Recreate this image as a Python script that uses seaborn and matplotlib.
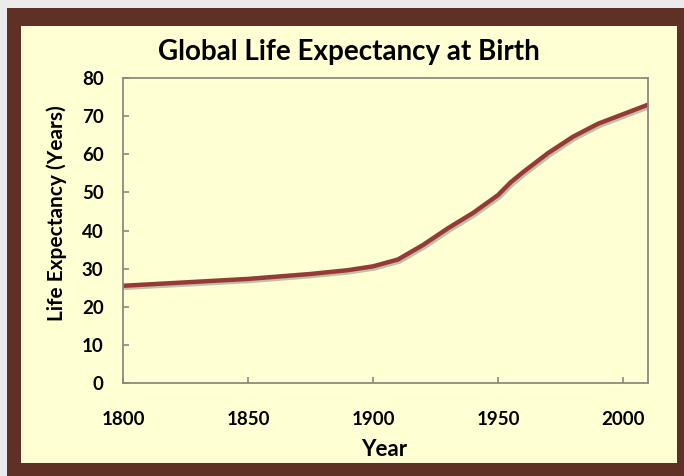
import matplotlib
matplotlib.use("Agg")
import matplotlib.pyplot as plt
import matplotlib.patheffects as pe
from matplotlib.patches import Rectangle
import pandas as pd
import seaborn as sns

# values
years = [1800, 1825, 1850, 1875, 1890, 1900, 1910, 1920, 1930, 1940, 1950,
         1955, 1960, 1970, 1980, 1990, 2000, 2010]
life_exp = [25.5, 26.4, 27.3, 28.6, 29.6, 30.6, 32.4, 36.2, 40.6, 44.6, 49.3,
            52.6, 55.3, 60.3, 64.6, 68.0, 70.5, 73.0]
x_ticks = [1800, 1850, 1900, 1950, 2000]
y_ticks = [0, 10, 20, 30, 40, 50, 60, 70, 80]

BROWN = "#5e3124"
PANEL = "#ffffd4"
LINE = "#963a36"
SPINE = "#8a8a80"

sns.set_style("ticks")
plt.rcParams["font.family"] = ["Lato", "DejaVu Sans"]
plt.rcParams["text.color"] = "black"
plt.rcParams["xtick.labelcolor"] = "black"
plt.rcParams["ytick.labelcolor"] = "black"

df = pd.DataFrame({"Year": years, "Life Expectancy": life_exp})

fig = plt.figure(figsize=(6.84, 4.76), dpi=100, facecolor="#ebebeb")
W, H = 684, 476
fig.patches.append(Rectangle((7 / W, 0), 1 - 7 / W, 1 - 8 / H, transform=fig.transFigure,
                             facecolor=BROWN, edgecolor="none", zorder=-10))
fig.patches.append(Rectangle((21 / W, 13 / H), (677 - 21) / W, (463 - 26) / H,
                             transform=fig.transFigure, facecolor=PANEL,
                             edgecolor="none", zorder=-9))

ax = fig.add_axes([123 / W, 1 - 383 / H, (648 - 123) / W, (383 - 78) / H])
ax.set_facecolor(PANEL)

sns.lineplot(data=df, x="Year", y="Life Expectancy", ax=ax, color=LINE, linewidth=3.2,
             path_effects=[pe.SimpleLineShadow(offset=(1.2, -1.5), shadow_color="#777",
                                               alpha=0.45), pe.Normal()])

ax.set_xlim(1800, 2010)
ax.set_ylim(0, 80)
ax.set_xticks(x_ticks)
ax.set_yticks(y_ticks)
ax.tick_params(axis="both", direction="in", length=4.5, width=1.2, color=SPINE,
               labelsize=13.5, labelcolor="black")
ax.tick_params(axis="x", pad=20)
ax.tick_params(axis="y", pad=14)
for lab in ax.get_xticklabels() + ax.get_yticklabels():
    lab.set_fontweight("bold")
for s in ax.spines.values():
    s.set_visible(True)
    s.set_color(SPINE)
    s.set_linewidth(1.3)
ax.set_xlabel("")
ax.set_ylabel("")

fig.text(349 / W, 1 - 52 / H, "Global Life Expectancy at Birth", ha="center", va="center",
         fontsize=20, fontweight="bold", color="black")
fig.text(384 / W, 1 - 450 / H, "Year", ha="center", va="center", fontsize=16,
         fontweight="bold", color="black")
fig.text(57 / W, 1 - 213 / H, "Life Expectancy (Years)", ha="center", va="center",
         rotation=90, fontsize=15, fontweight="bold", color="black")

fig.savefig("out.png", dpi=100, facecolor=fig.get_facecolor())
